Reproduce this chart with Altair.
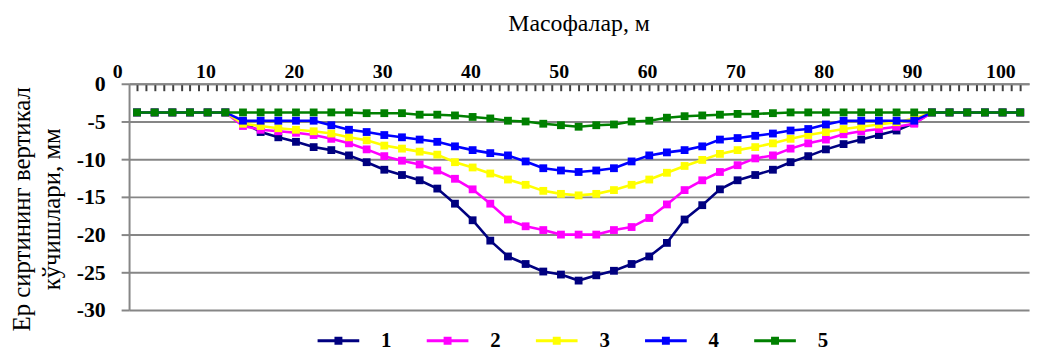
import altair as alt
import pandas as pd

# ---------------- data ----------------
distance_m = list(range(0, 101, 2))          # 51 stations, every 2 m
series_labels = ["1", "2", "3", "4", "5"]
series_colors = ["#000080", "#FF00FF", "#FFFF00", "#0000FF", "#008000"]

s1 = [-3.8, -3.8, -3.8, -3.8, -3.8, -3.8, -5.1, -6.4, -7.1, -7.7, -8.4, -8.8, -9.5,
      -10.4, -11.4, -12.1, -12.8, -13.9, -15.9, -18.1, -20.8, -22.9, -23.9, -24.9,
      -25.3, -26.1, -25.4, -24.8, -23.9, -22.9, -21.1, -18.0, -16.1, -14.0, -12.8,
      -12.1, -11.4, -10.4, -9.6, -8.7, -8.0, -7.4, -6.8, -6.2, -5.2, -3.8, -3.8,
      -3.8, -3.8, -3.8, -3.8]
s2 = [-3.8, -3.8, -3.8, -3.8, -3.8, -3.8, -5.6, -6.1, -6.3, -6.5, -6.8, -7.3, -7.9,
      -8.7, -9.6, -10.2, -10.7, -11.5, -12.6, -14.0, -15.9, -18.0, -18.9, -19.4,
      -20.0, -20.0, -20.0, -19.4, -19.0, -17.8, -16.0, -14.1, -12.8, -11.7, -10.8,
      -9.9, -9.5, -8.6, -7.9, -7.4, -6.7, -6.3, -6.0, -5.7, -5.3, -3.8, -3.8,
      -3.8, -3.8, -3.8, -3.8]
s3 = [-3.8, -3.8, -3.8, -3.8, -3.8, -3.8, -5.3, -5.6, -5.9, -6.1, -6.3, -6.6, -7.1,
      -7.5, -8.2, -8.6, -9.0, -9.4, -10.4, -11.1, -11.9, -12.7, -13.4, -14.2,
      -14.6, -14.8, -14.6, -14.1, -13.4, -12.7, -11.8, -10.9, -10.1, -9.3, -8.8,
      -8.4, -7.9, -7.3, -6.8, -6.4, -6.0, -5.7, -5.4, -5.1, -4.6, -3.8, -3.8,
      -3.8, -3.8, -3.8, -3.8]
s4 = [-3.8, -3.8, -3.8, -3.8, -3.8, -3.8, -4.9, -4.9, -4.9, -4.9, -4.9, -5.5, -6.1,
      -6.4, -6.8, -7.1, -7.4, -7.7, -8.3, -8.8, -9.2, -9.5, -10.3, -11.2,
      -11.5, -11.7, -11.5, -11.2, -10.3, -9.5, -9.1, -8.8, -8.3, -7.4, -7.2,
      -6.9, -6.6, -6.2, -6.0, -5.4, -4.9, -4.9, -4.9, -4.9, -4.9, -3.8, -3.8,
      -3.8, -3.8, -3.8, -3.8]
s5 = [-3.8, -3.8, -3.8, -3.8, -3.8, -3.8, -3.8, -3.8, -3.8, -3.8, -3.8, -3.8, -3.8,
      -3.9, -3.9, -3.9, -4.1, -4.1, -4.2, -4.4, -4.6, -4.9, -5.0, -5.3,
      -5.5, -5.7, -5.5, -5.4, -5.0, -4.9, -4.5, -4.3, -4.2, -4.1, -4.0,
      -4.0, -3.9, -3.8, -3.8, -3.8, -3.8, -3.8, -3.8, -3.8, -3.8, -3.8, -3.8,
      -3.8, -3.8, -3.8, -3.8]

x_tick_values = list(range(0, 101, 1))       # small ticks every metre
y_ticks = [-30, -25, -20, -15, -10, -5, 0]

x_title = "Масофалар, м"
y_title = ["Ер сиртининг вертикал", "кўчишлари, мм"]

rows = []
for name, vals in zip(series_labels, [s1, s2, s3, s4, s5]):
    assert len(vals) == len(distance_m)
    for d, v in zip(distance_m, vals):
        rows.append({"distance": d, "displacement": v, "series": name})
df = pd.DataFrame(rows)

# ---------------- styling ----------------
FONT = "Liberation Serif"
GRID = "#868686"
PLOT_W, PLOT_H = 907, 228

x_scale = alt.Scale(domain=[-0.9, 101.0], nice=False, zero=False)
y_scale = alt.Scale(domain=[-30, 0], nice=False, zero=False)
fill_scale = alt.Scale(domain=series_labels, range=series_colors)

# bottom-oriented axis moved up to the top edge so that its ticks point into the plot
x_axis = alt.Axis(
    orient="bottom", offset=-PLOT_H, values=x_tick_values, title=x_title,
    grid=True, gridOpacity=0,
    ticks=True, tickSize=7, tickColor="#404040", tickWidth=2,
    domainColor=GRID, domainWidth=2,
    labelExpr="datum.value % 10 === 0 ? datum.value + '' : ''",
    labelFont=FONT, labelFontWeight="bold", labelFontSize=20, labelColor="black",
    labelPadding=-13.5, labelBaseline="alphabetic", labelOffset=-20,
    titleFont=FONT, titleFontSize=24, titleFontWeight="normal", titleColor="black",
    titleX=453, titleY=-54, titleBaseline="alphabetic", titleAlign="center",
)

y_axis = alt.Axis(
    values=y_ticks, title=y_title, grid=True, gridColor=GRID, gridWidth=2,
    domainColor=GRID, domainWidth=2, tickColor=GRID, tickWidth=2, tickSize=8,
    labelFont=FONT, labelFontWeight="bold", labelFontSize=22, labelColor="black",
    labelPadding=16, labelExpr="datum.value + ''", labelFlush=False,
    labelOverlap=False, labelBaseline="middle",
    titleFont=FONT, titleFontSize=25, titleFontWeight="normal", titleColor="black",
    titleAngle=270, titleAlign="center", titleBaseline="top",
    titleX=-120, titleY=126, titleLineHeight=30,
)

legend = alt.Legend(
    title=None, orient="none", direction="horizontal", legendX=190, legendY=238,
    symbolType="M-1,-0.07H1V0.07H-1Z M-0.19,-0.19H0.19V0.19H-0.19Z",
    symbolSize=1764, symbolStrokeWidth=0, symbolOpacity=1,
    labelFont=FONT, labelFontWeight="bold", labelFontSize=21, labelColor="black",
    labelOffset=22, columnPadding=35, padding=0,
)

layers = []
for name, col in zip(series_labels, series_colors):
    sub = alt.Chart(df).transform_filter(alt.datum.series == name)
    enc = dict(
        x=alt.X("distance:Q", scale=x_scale, axis=x_axis),
        y=alt.Y("displacement:Q", scale=y_scale, axis=y_axis),
    )
    line = sub.mark_line(strokeWidth=2.6, color=col).encode(**enc)
    pts = sub.mark_square(size=62, filled=True, opacity=1).encode(
        fill=alt.Fill("series:N", scale=fill_scale, legend=legend), **enc)
    layers += [line, pts]

chart = (
    alt.layer(*layers)
    .properties(
        width=PLOT_W, height=PLOT_H,
        padding={"left": 122, "top": 75, "right": 6, "bottom": 44},
        autosize=alt.AutoSizeParams(type="none"),
        background="white",
    )
    .configure_view(stroke=None)
)

chart.save("out.html", embed_options={"renderer": "svg", "actions": False})
